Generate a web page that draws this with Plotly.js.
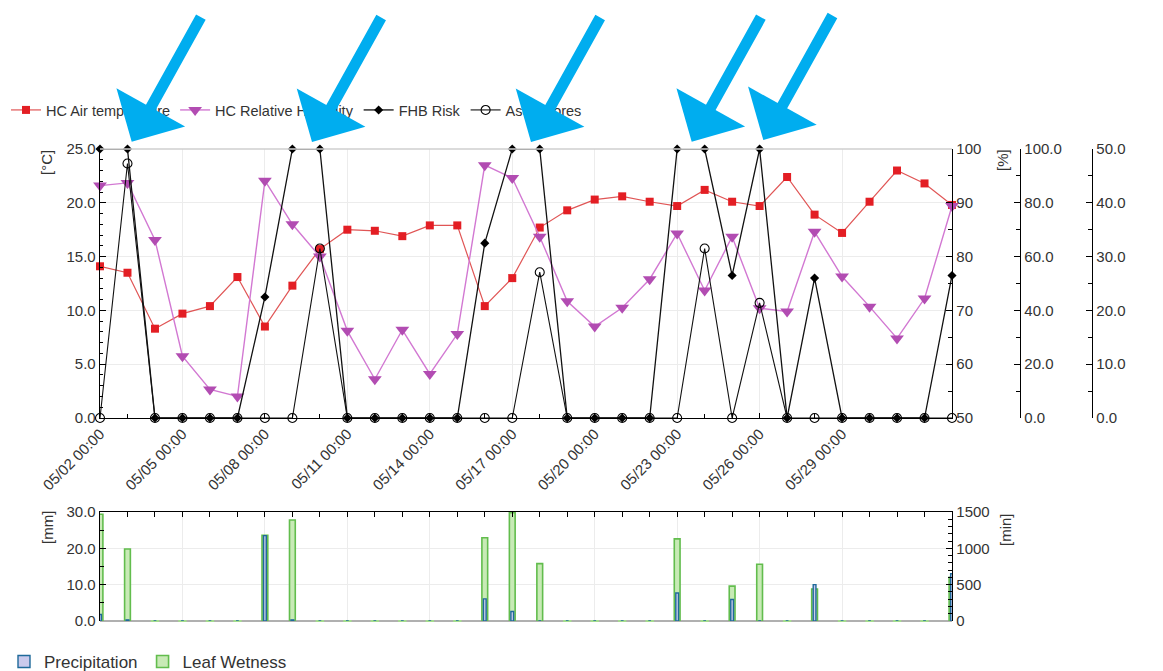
<!DOCTYPE html>
<html>
<head>
<meta charset="utf-8">
<script src="https://cdn.plot.ly/plotly-3.0.1.min.js"></script>
<style>
html,body{margin:0;padding:0;background:#fff;}
#chart{width:1163px;height:671px;}
</style>
</head>
<body>
<div id="chart"></div>
<script>
// ---------- data ----------
const dates = [
  '2013-05-02','2013-05-03','2013-05-04','2013-05-05','2013-05-06','2013-05-07','2013-05-08','2013-05-09',
  '2013-05-10','2013-05-11','2013-05-12','2013-05-13','2013-05-14','2013-05-15','2013-05-16','2013-05-17',
  '2013-05-18','2013-05-19','2013-05-20','2013-05-21','2013-05-22','2013-05-23','2013-05-24','2013-05-25',
  '2013-05-26','2013-05-27','2013-05-28','2013-05-29','2013-05-30','2013-05-31','2013-06-01','2013-06-02'
];
const airTemperature = [14.1, 13.5, 8.3, 9.7, 10.4, 13.1, 8.5, 12.3, 15.7, 17.5, 17.4, 16.9, 17.9, 17.9, 10.4, 13.0,
  17.7, 19.3, 20.3, 20.6, 20.1, 19.7, 21.2, 20.1, 19.7, 22.4, 18.9, 17.2, 20.1, 23.0, 21.8, 19.8];
const relativeHumidity = [93.2, 93.7, 83.1, 61.5, 55.3, 54.0, 94.1, 86.0, 80.0, 66.2, 57.2, 66.4, 58.2, 65.6, 97.0, 94.6,
  83.7, 71.7, 67.0, 70.5, 75.8, 84.3, 73.7, 83.7, 70.4, 69.8, 84.6, 76.3, 70.7, 64.8, 72.2, 89.4];
const fhbRisk = [100, 100, 0, 0, 0, 0, 45, 100, 100, 0, 0, 0, 0, 0, 65, 100,
  100, 0, 0, 0, 0, 100, 100, 53, 100, 0, 52, 0, 0, 0, 0, 53];
const ascospores = [0, 47.3, 0, 0, 0, 0, 0, 0, 31.5, 0, 0, 0, 0, 0, 0, 0,
  27.1, 0, 0, 0, 0, 0, 31.5, 0, 21.4, 0, 0, 0, 0, 0, 0, 0];
const precipitation = [1.8, 0.3, 0, 0, 0, 0, 23.5, 0.3, 0, 0, 0, 0, 0, 0, 6.1, 2.6,
  0, 0, 0, 0, 0, 7.7, 0, 5.9, 0, 0, 10.0, 0, 0, 0, 0, 13.0];
const leafWetness = [1470, 990, 0, 0, 0, 0, 1180, 1390, 0, 0, 0, 0, 0, 0, 1145, 1490,
  790, 0, 0, 0, 0, 1130, 0, 480, 780, 0, 440, 0, 0, 0, 0, 600];
const tickDates = ['2013-05-02','2013-05-05','2013-05-08','2013-05-11','2013-05-14',
  '2013-05-17','2013-05-20','2013-05-23','2013-05-26','2013-05-29'];
const tickLabels = ['05/02 00:00','05/05 00:00','05/08 00:00','05/11 00:00','05/14 00:00',
  '05/17 00:00','05/20 00:00','05/23 00:00','05/26 00:00','05/29 00:00'];
const arrowTips = [[131.7,141.7],[312,142],[531,142],[691.7,141.7],[763.3,140]];

// ---------- geometry helpers ----------
const W = 1163, H = 671, ML = 100, MR = 23;
const PW = W - ML - MR;
const px = v => (v - ML) / PW;
const py = v => 1 - v / H;
const xEnd = px(952);
const DAY = 86400000;
const FONT = 'Liberation Sans, Arial, sans-serif';
const tf = {family: FONT, size: 15, color: '#333'};

const zeroDays = dates.filter((d, i) => leafWetness[i] === 0);
const zeroVals = zeroDays.map(() => 0);

const traces = [
  {x: dates, y: airTemperature, name: 'HC Air temperature', type: 'scatter', mode: 'lines+markers',
   xaxis: 'x', yaxis: 'y', cliponaxis: false,
   line: {color: '#e05555', width: 1.2},
   marker: {symbol: 'square', size: 8, color: '#e31e24', line: {width: 0}}},
  {x: dates, y: relativeHumidity, name: 'HC Relative Humidity', type: 'scatter', mode: 'lines+markers',
   xaxis: 'x', yaxis: 'y2', cliponaxis: false,
   line: {color: '#d278d2', width: 1.4},
   marker: {symbol: 'triangle-down', size: 12, color: '#b24cb2', line: {width: 0}}},
  {x: dates, y: fhbRisk, name: 'FHB Risk', type: 'scatter', mode: 'lines+markers',
   xaxis: 'x', yaxis: 'y3', cliponaxis: false,
   line: {color: '#111', width: 1.3},
   marker: {symbol: 'diamond', size: 7, color: '#000'}},
  {x: dates, y: ascospores, name: 'Ascospores', type: 'scatter', mode: 'lines+markers',
   xaxis: 'x', yaxis: 'y4', cliponaxis: false,
   line: {color: '#111', width: 1.1},
   marker: {symbol: 'circle', size: 9, color: 'rgba(255,255,255,0)', line: {color: '#000', width: 1.1}}},
  {x: dates, y: leafWetness, name: 'Leaf Wetness', type: 'bar', xaxis: 'x2', yaxis: 'y5',
   legend: 'legend2', width: 0.21 * DAY,
   marker: {color: '#c8eab6', line: {color: '#62bd4d', width: 1.6}}},
  {x: zeroDays, y: zeroVals, type: 'scatter', mode: 'markers', xaxis: 'x2', yaxis: 'y5',
   showlegend: false, hoverinfo: 'skip', cliponaxis: false,
   marker: {symbol: 'line-ew', size: 6, line: {color: '#a5dc8e', width: 2}}},
  {x: dates, y: precipitation, name: 'Precipitation', type: 'bar', xaxis: 'x2', yaxis: 'y6',
   legend: 'legend2', width: 0.1 * DAY,
   marker: {color: '#cacaec', line: {color: '#1f6a9a', width: 1.4}}}
];

const axBase = {showline: true, linecolor: '#000', linewidth: 1.3, ticks: 'inside', tickcolor: '#000',
  tickfont: tf, zeroline: false, automargin: false};

const titleAnn = (text, x, y) => ({text: text, x: px(x), y: py(y), xref: 'paper', yref: 'paper',
  xanchor: 'center', yanchor: 'middle', showarrow: false, textangle: -90, font: tf});
const annotations = [
  titleAnn('[°C]', 46, 163),
  titleAnn('[%]', 1003, 160),
  titleAnn('[mm]', 47, 528),
  titleAnn('[min]', 1005, 530)
];
arrowTips.forEach(t => annotations.push({
  text: '', x: px(t[0]), y: py(t[1]), xref: 'paper', yref: 'paper', showarrow: true,
  ax: 70, ay: -126, arrowhead: 1, arrowwidth: 11, arrowsize: 1.19, arrowcolor: '#00adef'
}));

const layout = {
  width: W, height: H,
  margin: {l: ML, r: MR, t: 0, b: 0, autoexpand: false},
  paper_bgcolor: '#fff', plot_bgcolor: '#fff',
  font: {family: FONT, color: '#333'},
  barmode: 'overlay',
  showlegend: true,
  legend: {orientation: 'h', x: px(6), xanchor: 'left', y: py(110), yanchor: 'middle',
    font: {family: FONT, size: 14.5, color: '#333'}, bgcolor: 'rgba(0,0,0,0)', traceorder: 'normal'},
  legend2: {orientation: 'h', x: px(4), xanchor: 'left', y: py(662), yanchor: 'middle',
    font: {family: FONT, size: 17, color: '#333'}, bgcolor: 'rgba(0,0,0,0)', traceorder: 'reversed'},
  xaxis: Object.assign({}, axBase, {
    type: 'date', domain: [0, xEnd], anchor: 'y', range: [dates[0], dates[dates.length - 1]],
    tickmode: 'array', tickvals: tickDates, ticktext: tickLabels, tickangle: -45, ticklen: 5,
    showgrid: true, gridcolor: '#ececec',
    minor: {tickmode: 'linear', tick0: dates[0], dtick: DAY, ticks: 'inside', ticklen: 4, tickcolor: '#000', showgrid: false}
  }),
  yaxis: Object.assign({}, axBase, {
    domain: [py(418), py(149)], range: [0, 25], dtick: 5, tickformat: '.1f', ticklen: 6,
    showgrid: true, gridcolor: '#ececec',
    minor: {dtick: 1, ticks: 'inside', ticklen: 3, tickcolor: '#000', showgrid: false}
  }),
  yaxis2: Object.assign({}, axBase, {
    overlaying: 'y', side: 'right', anchor: 'x', range: [50, 100], dtick: 10, ticklen: 6,
    showgrid: false, minor: {dtick: 5, ticks: 'inside', ticklen: 4, tickcolor: '#000'}
  }),
  yaxis3: Object.assign({}, axBase, {
    overlaying: 'y', side: 'right', anchor: 'free', position: px(1020), range: [0, 100], dtick: 20,
    tickformat: '.1f', ticklen: 6, showgrid: false,
    minor: {dtick: 10, ticks: 'inside', ticklen: 4, tickcolor: '#000'}
  }),
  yaxis4: Object.assign({}, axBase, {
    overlaying: 'y', side: 'right', anchor: 'free', position: px(1092), range: [0, 50], dtick: 10,
    tickformat: '.1f', ticklen: 6, showgrid: false,
    minor: {dtick: 5, ticks: 'inside', ticklen: 4, tickcolor: '#000'}
  }),
  xaxis2: Object.assign({}, axBase, {
    type: 'date', domain: [0, xEnd], anchor: 'y5', side: 'top', range: [dates[0], dates[dates.length - 1]],
    tickmode: 'array', tickvals: tickDates, showticklabels: false, ticklen: 5,
    showgrid: true, gridcolor: '#ececec',
    minor: {tickmode: 'linear', tick0: dates[0], dtick: DAY, ticks: 'inside', ticklen: 5, tickcolor: '#000', showgrid: false}
  }),
  yaxis5: Object.assign({}, axBase, {
    domain: [py(621), py(512)], anchor: 'x2', side: 'right', range: [0, 1500], dtick: 500, ticklen: 6,
    showgrid: true, gridcolor: '#ececec', zeroline: true, zerolinecolor: '#b0b0b0', zerolinewidth: 1.5,
    minor: {dtick: 100, ticks: 'inside', ticklen: 4, tickcolor: '#000'}
  }),
  yaxis6: Object.assign({}, axBase, {
    overlaying: 'y5', side: 'left', anchor: 'x2', range: [0, 30], dtick: 10, tickformat: '.1f', ticklen: 6,
    showgrid: false, minor: {dtick: 5, ticks: 'inside', ticklen: 4, tickcolor: '#000'}
  }),
  shapes: [
    {type: 'line', xref: 'x domain', yref: 'y domain', x0: 0, x1: 1, y0: 1, y1: 1,
     line: {color: '#cfcfcf', width: 1.5}}
  ],
  annotations: annotations
};

Plotly.newPlot('chart', traces, layout, {displayModeBar: false, staticPlot: true});
</script>
</body>
</html>
